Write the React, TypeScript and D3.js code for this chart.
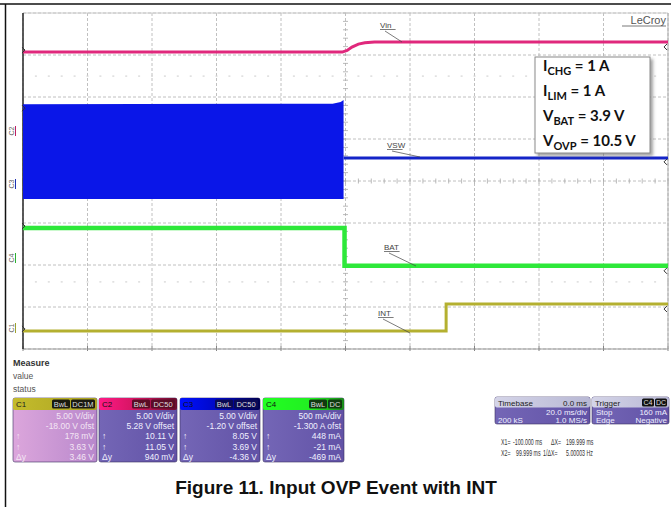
import React from "react";
import * as d3 from "d3";

// ---------- data ----------
const timeDomain = [-100, 100]; // ms, 20 ms/div
const divDomain = [-4, 4];

const vinT = [-100, -1, 0.5, 2, 4, 6, 9, 100];
const vinDiv = [3.07, 3.07, 3.11, 3.19, 3.26, 3.29, 3.31, 3.31];

const vswBlockT = [-100, -4, -1.5, -0.6];
const vswBlockHi = [1.83, 1.84, 1.88, 1.93];
const vswBlockLo = [-0.43, -0.43, -0.43, -0.43];
const vswAfterT = [-0.6, 100];
const vswAfterDiv = [0.55, 0.55];

const batT = [-100, -0.3, -0.3, 100];
const batDiv = [-1.12, -1.12, -2.02, -2.02];

const intT = [-100, 31.2, 31.2, 100];
const intDiv = [-3.57, -3.57, -2.93, -2.93];

const chanNames = ["C1", "C2", "C3", "C4"];
const chanTags = [["BwL", "DC1M"], ["BwL", "DC50"], ["BwL", "DC50"], ["BwL", "DC"]];
const chanScale = ["5.00 V/div", "5.00 V/div", "5.00 V/div", "500 mA/div"];
const chanOffset = ["-18.00 V ofst", "5.28 V offset", "-1.20 V offset", "-1.300 A ofst"];
const chanCur1 = ["178 mV", "10.11 V", "8.05 V", "448 mA"];
const chanCur2 = ["3.63 V", "11.05 V", "3.69 V", "-21 mA"];
const chanDelta = ["3.46 V", "940 mV", "-4.36 V", "-469 mA"];

const cursorRow1 = ["X1=", "-100.000 ms", "ΔX=", "199.999 ms"];
const cursorRow2 = ["X2=", "99.999 ms", "1/ΔX=", "5.00003 Hz"];

const annotMain = ["I", "I", "V", "V"];
const annotSub = ["CHG", "LIM", "BAT", "OVP"];
const annotVal = [" = 1 A", " = 1 A", " = 3.9 V", " = 10.5 V"];

// ---------- layout ----------
const W = 671, H = 507;
const PL = 23, PR = 668, PT = 13, PB = 349;

const x = d3.scaleLinear().domain(timeDomain).range([PL, PR]);
const y = d3.scaleLinear().domain(divDomain).range([PB, PT]);

const line = d3.line<[number, number]>().x(d => x(d[0])).y(d => y(d[1]));
const zip = (a: number[], b: number[]) => a.map((v, i) => [v, b[i]] as [number, number]);

const area = d3.area<number>()
  .x((_, i) => x(vswBlockT[i]))
  .y0((_, i) => y(vswBlockLo[i]))
  .y1((_, i) => y(vswBlockHi[i]));

const F = "'Liberation Sans', Arial, sans-serif";

function ChannelBox({ i, x0, w }: { i: number; x0: number; w: number }) {
  const top = 398, hh = 12, bottom = 462;
  const headCols = ["url(#hC1)", "url(#hC2)", "url(#hC3)", "url(#hC4)"];
  const tagFill = ["#1a1a10", "#5a0c26", "#0a0a55", "#103a10"];
  const body = i === 0 ? "url(#bC1)" : "url(#bCx)";
  const txt = i === 0 ? "#f4e6f4" : "#f0f0ff";
  const rows = [chanScale[i], chanOffset[i], chanCur1[i], chanCur2[i], chanDelta[i]];
  const leftLab = ["", "", "↑", "↑", "Δy"];
  const tags = chanTags[i];
  const t2w = tags[1].length * 5 + 4;
  const t1w = tags[0].length * 5 + 3;
  return (
    <g fontFamily={F}>
      <rect x={x0} y={top} width={w} height={bottom - top} rx={2} fill={body} stroke="#3a3060" strokeWidth={0.6} />
      <rect x={x0} y={top} width={w} height={hh} rx={2} fill={headCols[i]} />
      <text x={x0 + 3} y={top + 9} fontSize={8} fill={i === 0 ? "#222" : "#111"}>{chanNames[i]}</text>
      <rect x={x0 + w - 2 - t2w} y={top + 1.5} width={t2w} height={9} rx={1.5} fill={tagFill[i]} />
      <rect x={x0 + w - 3 - t2w - t1w} y={top + 1.5} width={t1w} height={9} rx={1.5} fill={tagFill[i]} />
      <text x={x0 + w - 2 - t2w / 2} y={top + 9} fontSize={7.5} fill="#ddd" textAnchor="middle">{tags[1]}</text>
      <text x={x0 + w - 3 - t2w - t1w / 2} y={top + 9} fontSize={7.5} fill="#ddd" textAnchor="middle">{tags[0]}</text>
      {rows.map((r, k) => (
        <g key={k}>
          <text x={x0 + w - 3} y={top + hh + 9 + k * 10.2} fontSize={8.5} fill={txt} textAnchor="end">{r}</text>
          {leftLab[k] && (
            <text x={x0 + 3} y={top + hh + 9 + k * 10.2} fontSize={8.5} fill={txt}>{leftLab[k]}</text>
          )}
        </g>
      ))}
    </g>
  );
}

function Narrow({ tx, ty, s }: { tx: number; ty: number; s: string }) {
  return (
    <g transform={`translate(${tx},${ty}) scale(0.62,1)`}>
      <text x={0} y={0} fontSize={8.5} fontFamily={F} fill="#333">{s}</text>
    </g>
  );
}

export default function App() {
  const xt = d3.range(0, 11).map(k => PL + (k * (PR - PL)) / 10);
  const yt = d3.range(0, 9).map(k => PT + (k * (PB - PT)) / 8);
  const cx = x(0), cy = y(0);
  const minorX = d3.range(0, 51).map(k => PL + (k * (PR - PL)) / 50);
  const minorY = d3.range(0, 41).map(k => PT + (k * (PB - PT)) / 40);

  const lbl = (t: string, lx: number, ly: number, ex: number, ey: number) => (
    <g>
      <text x={lx} y={ly} fontSize={8} fontFamily={F} fill="#444">{t}</text>
      <line x1={lx} x2={lx + t.length * 5.2} y1={ly + 1.5} y2={ly + 1.5} stroke="#444" strokeWidth={0.7} />
      <line x1={lx + 5} y1={ly + 3} x2={ex} y2={ey} stroke="#444" strokeWidth={0.7} />
    </g>
  );

  const cursorX1 = [501, 513, 551, 566];
  const cursorX2 = [501, 516, 543, 566];

  return (
    <svg width={W} height={H} style={{ position: "absolute", left: 0, top: 0, background: "#fff" }}>
      <defs>
        <linearGradient id="hC1" x1="0" x2="1"><stop offset="0" stopColor="#c4bc2c" /><stop offset="1" stopColor="#aaa222" /></linearGradient>
        <linearGradient id="hC2" x1="0" x2="1"><stop offset="0" stopColor="#ff1a86" /><stop offset="0.5" stopColor="#d0145e" /><stop offset="1" stopColor="#6a0c2e" /></linearGradient>
        <linearGradient id="hC3" x1="0" x2="1"><stop offset="0" stopColor="#0010ff" /><stop offset="0.5" stopColor="#0008c0" /><stop offset="1" stopColor="#000050" /></linearGradient>
        <linearGradient id="hC4" x1="0" x2="1"><stop offset="0" stopColor="#22ff22" /><stop offset="0.6" stopColor="#22ee22" /><stop offset="1" stopColor="#1a8a1a" /></linearGradient>
        <linearGradient id="bC1" x1="0" x2="1"><stop offset="0" stopColor="#dca6dc" /><stop offset="1" stopColor="#b888cc" /></linearGradient>
        <linearGradient id="bCx" x1="0" x2="1"><stop offset="0" stopColor="#7466b6" /><stop offset="1" stopColor="#6152a6" /></linearGradient>
        <linearGradient id="hTB" x1="0" x2="1"><stop offset="0" stopColor="#d4d4e8" /><stop offset="1" stopColor="#b8b8d4" /></linearGradient>
        <filter id="sh" x="-10%" y="-10%" width="130%" height="130%">
          <feDropShadow dx="2.5" dy="2.5" stdDeviation="1.5" floodColor="#666" floodOpacity="0.6" />
        </filter>
      </defs>

      {/* figure frame */}
      <line x1={0} x2={W} y1={4} y2={4} stroke="#111" strokeWidth={1.5} />
      <line x1={5.5} x2={5.5} y1={4} y2={H} stroke="#111" strokeWidth={1.5} />

      {/* grid */}
      {xt.map((v, k) => (
        <line key={"gx" + k} x1={v} x2={v} y1={PT} y2={PB} stroke="#b0b0b0" strokeWidth={0.8} strokeDasharray="3,2" />
      ))}
      {yt.map((v, k) => (
        <line key={"gy" + k} x1={PL} x2={PR} y1={v} y2={v} stroke="#b0b0b0" strokeWidth={0.8} strokeDasharray="3,2" />
      ))}
      {[y(2.5), y(-2.4)].map((v, k) =>
        minorX.map((mx, j) => (
          <rect key={"fd" + k + "_" + j} x={mx - 1} y={v - 0.5} width={2} height={1.2} fill="#d4d4d4" />
        ))
      )}
      {minorX.map((mx, j) => (
        <line key={"mx" + j} x1={mx} x2={mx} y1={cy - 2.5} y2={cy + 2.5} stroke="#aaa" strokeWidth={0.8} />
      ))}
      {minorY.map((my, j) => (
        <line key={"my" + j} x1={cx - 2.5} x2={cx + 2.5} y1={my} y2={my} stroke="#aaa" strokeWidth={0.8} />
      ))}
      {xt.map((v, k) => (
        <line key={"bt" + k} x1={v} x2={v} y1={PB - 3} y2={PB + 2} stroke="#666" strokeWidth={0.8} />
      ))}
      <line x1={PL} x2={PR} y1={PT} y2={PT} stroke="#ccc" strokeWidth={1} />
      <line x1={PL} x2={PR} y1={PB} y2={PB} stroke="#999" strokeWidth={1} />
      <line x1={PR} x2={PR} y1={PT} y2={PB} stroke="#aaa" strokeWidth={1} />
      <line x1={PL} x2={PL} y1={PT} y2={PB} stroke="#333" strokeWidth={1.6} />

      {/* traces */}
      <path d={area(vswBlockT) || ""} fill="#0a16e8" />
      <path d={line(zip(vswAfterT, vswAfterDiv)) || ""} fill="none" stroke="#1424c8" strokeWidth={3} />
      <path d={line(zip(vinT, vinDiv)) || ""} fill="none" stroke="#e0287c" strokeWidth={3} />
      <path d={line(zip(batT, batDiv)) || ""} fill="none" stroke="#2ee83a" strokeWidth={4.5} />
      <path d={line(zip(intT, intDiv)) || ""} fill="none" stroke="#b4b030" strokeWidth={3} />

      {/* left channel markers */}
      {[
        { t: "C2", yy: 131, c: "#c02060" },
        { t: "C3", yy: 184, c: "#2030b0" },
        { t: "C4", yy: 258, c: "#30b030" },
        { t: "C1", yy: 328, c: "#a0a030" },
      ].map((m, k) => (
        <g key={"cm" + k}>
          <text x={0} y={0} transform={`translate(14,${m.yy}) rotate(-90)`} fontSize={7} fontFamily={F} fill="#666" textAnchor="middle">{m.t}</text>
          <line x1={15.5} x2={15.5} y1={m.yy - 5} y2={m.yy + 5} stroke={m.c} strokeWidth={1} />
        </g>
      ))}
      {[y(3.07), y(1.83) + 6, y(-1.12), y(-3.57)].map((v, k) => (
        <path key={"lm" + k} d={`M${PL - 1},${v - 5} l3,3 l-3,3`} fill="none" stroke="#333" strokeWidth={1} />
      ))}
      {[y(3.31) + 6, y(0.55) + 5, y(-2.02) + 6, y(-2.93) + 6].map((v, k) => (
        <path key={"rm" + k} d={`M${PR - 1},${v - 4} l-3,3 l3,3`} fill="none" stroke="#333" strokeWidth={1} />
      ))}

      {/* trace labels */}
      {lbl("Vin", 380, 28, 402, 42)}
      {lbl("VSW", 387, 148, 420, 157)}
      {lbl("BAT", 384, 250, 416, 266)}
      {lbl("INT", 378, 316, 410, 333)}

      <text x={666} y={24} fontSize={11} fontFamily={F} fill="#555" textAnchor="end">LeCroy</text>
      <line x1={622} x2={666} y1={26} y2={26} stroke="#555" strokeWidth={0.8} />

      {/* annotation box */}
      <rect x={535} y={57} width={115} height={96} fill="#fff" stroke="#8a8a8a" strokeWidth={1} filter="url(#sh)" />
      {annotMain.map((m, k) => (
        <text key={"an" + k} x={543} y={71 + k * 25} fontFamily="Lato, 'Open Sans', sans-serif" fontWeight={700} fontSize={15} fill="#111">
          {m}
          <tspan fontSize={11} dy={4}>{annotSub[k]}</tspan>
          <tspan dy={-4}>{annotVal[k]}</tspan>
        </text>
      ))}

      {/* measure panel */}
      <text x={13} y={366} fontSize={9} fontWeight={700} fontFamily={F} fill="#333">Measure</text>
      <text x={13} y={379} fontSize={8.5} fontFamily={F} fill="#555">value</text>
      <text x={13} y={392} fontSize={8.5} fontFamily={F} fill="#555">status</text>

      <ChannelBox i={0} x0={13} w={84} />
      <ChannelBox i={1} x0={99} w={78} />
      <ChannelBox i={2} x0={180} w={80} />
      <ChannelBox i={3} x0={263} w={81} />

      {/* timebase */}
      <g fontFamily={F} fontSize={8}>
        <rect x={495} y={397} width={95} height={27} rx={2} fill="url(#bCx)" stroke="#3a3060" strokeWidth={0.6} />
        <rect x={495} y={397} width={95} height={10.5} rx={2} fill="url(#hTB)" />
        <text x={498} y={405.5} fill="#222">Timebase</text>
        <text x={587} y={405.5} fill="#222" textAnchor="end">0.0 ms</text>
        <text x={587} y={415} fill="#f0f0ff" textAnchor="end">20.0 ms/div</text>
        <text x={498} y={422.5} fill="#f0f0ff">200 kS</text>
        <text x={587} y={422.5} fill="#f0f0ff" textAnchor="end">1.0 MS/s</text>

        <rect x={592} y={397} width={77} height={27} rx={2} fill="url(#bCx)" stroke="#3a3060" strokeWidth={0.6} />
        <rect x={592} y={397} width={77} height={10.5} rx={2} fill="url(#hTB)" />
        <text x={595} y={405.5} fill="#222">Trigger</text>
        <rect x={642} y={398.5} width={12} height={8} rx={1.5} fill="#111" />
        <rect x={655} y={398.5} width={12} height={8} rx={1.5} fill="#111" />
        <text x={648} y={405} fontSize={7} fill="#ddd" textAnchor="middle">C4</text>
        <text x={661} y={405} fontSize={7} fill="#ddd" textAnchor="middle">DC</text>
        <text x={596} y={415} fill="#f0f0ff">Stop</text>
        <text x={667} y={415} fill="#f0f0ff" textAnchor="end">160 mA</text>
        <text x={596} y={422.5} fill="#f0f0ff">Edge</text>
        <text x={667} y={422.5} fill="#f0f0ff" textAnchor="end">Negative</text>
      </g>

      {cursorRow1.map((s, k) => (
        <Narrow key={"c1" + k} tx={cursorX1[k]} ty={445} s={s} />
      ))}
      {cursorRow2.map((s, k) => (
        <Narrow key={"c2" + k} tx={cursorX2[k]} ty={456} s={s} />
      ))}

      {/* caption */}
      <text x={336} y={494} fontSize={19} fontWeight={700} fontFamily={F} fill="#111" textAnchor="middle">
        Figure 11. Input OVP Event with INT
      </text>
    </svg>
  );
}
